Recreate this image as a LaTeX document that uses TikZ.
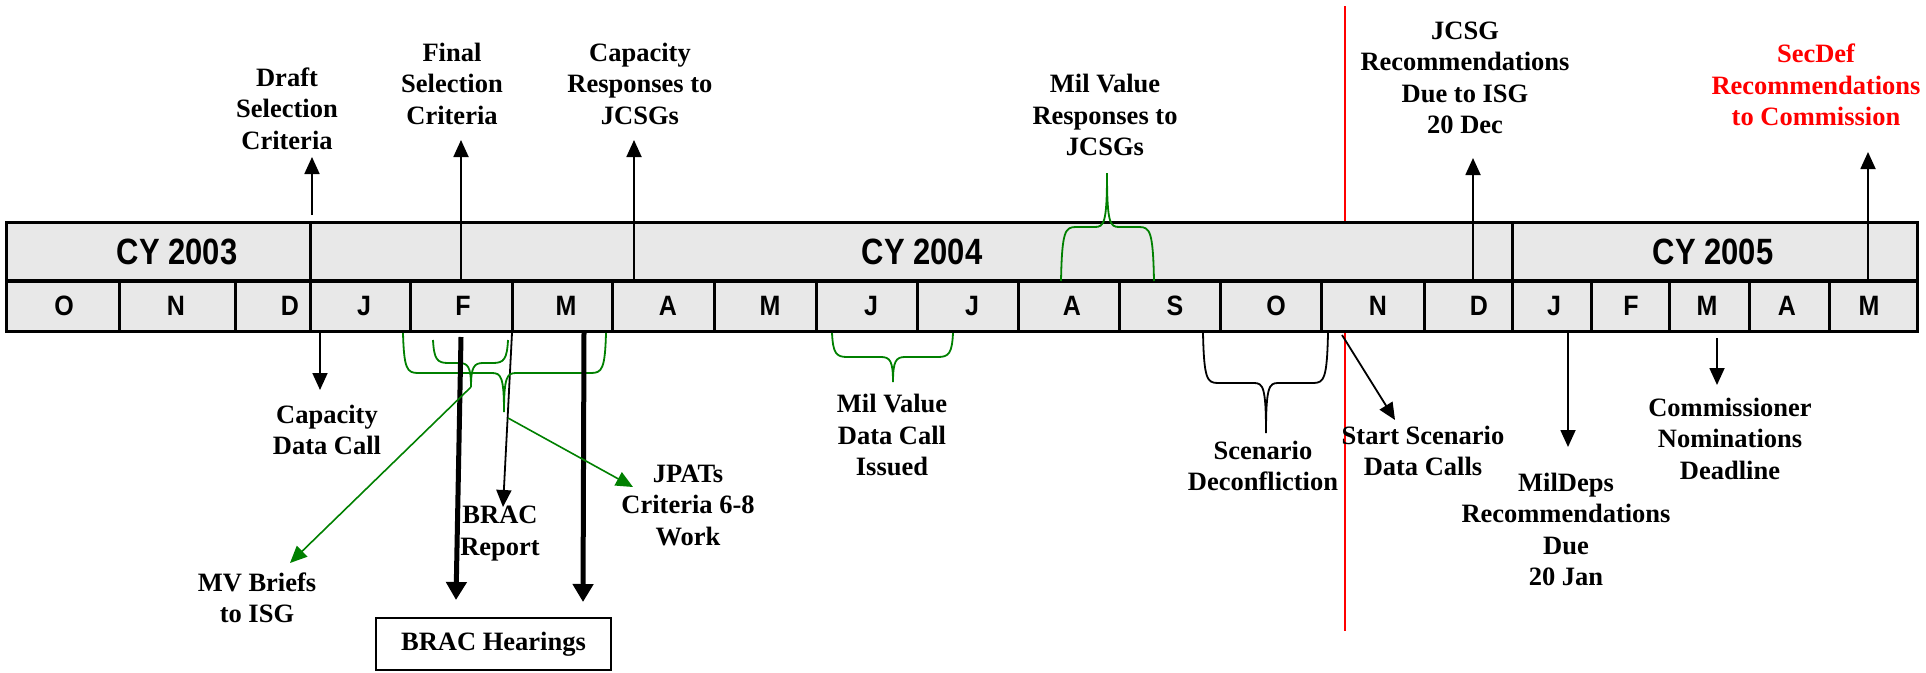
\documentclass[tikz,border=0pt]{standalone}
\usepackage{fontspec}
\usepackage{graphicx}
\setmainfont{Liberation Serif}
\newfontfamily\arialf{Liberation Sans}
\usetikzlibrary{arrows.meta}
\definecolor{tfill}{RGB}{232,232,232}
\definecolor{dgreen}{RGB}{0,128,0}
% brace: xL, xR, y0, yh, xc, yt, sign
\newcommand\mybrace[8][]{%
  \draw[bracestyle,#1] (#2,#4) .. controls (#2+1,#5-4*#8) and (#2+4,#5) .. (#2+15,#5)
    -- (#6-12,#5) .. controls (#6-3,#5) and (#6,#5+4*#8) .. (#6,#7)
    .. controls (#6,#5+4*#8) and (#6+3,#5) .. (#6+12,#5)
    -- (#3-15,#5) .. controls (#3-4,#5) and (#3-1,#5-4*#8) .. (#3,#4);}
\newcommand\ystr[2]{\scalebox{1}[#1]{#2}}
\begin{document}
\begin{tikzpicture}[x=1pt,y=-1pt,
  lbl/.style={font=\fontsize{26.5}{31.5}\selectfont\bfseries, align=center, inner sep=0pt},
  mon/.style={font=\arialf\bfseries\fontsize{25}{30}\selectfont, inner sep=0pt},
  yr/.style={font=\arialf\bfseries\fontsize{31}{36}\selectfont, inner sep=0pt},
  arr/.style={line width=1.8pt, -{Triangle[length=17pt,width=15pt]}},
  thickarr/.style={line width=5pt, -{Triangle[length=18pt,width=20pt]}},
  garr/.style={dgreen, line width=1.6pt, -{Triangle[length=17pt,width=15pt]}},
  bracestyle/.style={line width=1.8pt}]
\useasboundingbox (0,0) rectangle (1926,672);
% red line (behind table)
\coordinate (redtop) at (1345,6);
\coordinate (redbot) at (1345,631);
\draw[red, line width=1.8pt] (redtop) -- (redbot);
% table
\fill[tfill] (6,222) rectangle (1917,331);
\draw[line width=3pt] (6,222) rectangle (1917,331);
\draw[line width=4pt] (6,281) -- (1917,281);
\foreach \x in {310,1512} \draw[line width=3pt] (\x,222) -- (\x,281);
\foreach \x in {119,235,310,410,512,612,714,816,917,1018,1119,1220,1321,1424,1512,1591,1669,1749,1829}
  \draw[line width=3pt] (\x,281) -- (\x,331);
\node[yr] (y3) at (177,252) {\ystr{1.18}{CY 2003}};
\node[yr] (y4) at (922,252) {\ystr{1.18}{CY 2004}};
\node[yr] (y5) at (1713,252) {\ystr{1.18}{CY 2005}};
\foreach \x/\m [count=\i] in {64/O,176/N,290/D,364/J,463/F,566/M,668/A,770/M,871/J,972/J,1072/A,1175/S,1276/O,1378/N,1479/D,1554/J,1631/F,1707/M,1787/A,1869/M}
  \node[mon] (m\i) at (\x,306) {\ystr{1.12}{\m}};
% top labels
\node[lbl] (draft) at (287,108.5) {Draft\\Selection\\Criteria};
\node[lbl] (final) at (452,83.5) {Final\\Selection\\Criteria};
\node[lbl] (capresp) at (640,83.5) {Capacity\\Responses to\\JCSGs};
\node[lbl] (milresp) at (1105,115) {Mil Value\\Responses to\\JCSGs};
\node[lbl] (jcsg) at (1465,78) {JCSG\\Recommendations\\Due to ISG\\20 Dec};
\node[lbl, text=red] (secdef) at (1816,85) {SecDef\\Recommendations\\to Commission};
% top arrows
\coordinate (draftS) at (312,215); \coordinate (draftT) at (312,157);
\coordinate (finalS) at (461,281); \coordinate (finalT) at (461,140);
\coordinate (caprS) at (634,281); \coordinate (caprT) at (634,140);
\coordinate (jcsgS) at (1473,281); \coordinate (jcsgT) at (1473,158);
\coordinate (secS) at (1868,281); \coordinate (secT) at (1868,152);
\draw[arr] (draftS) -- (draftT);
\draw[arr] (finalS) -- (finalT);
\draw[arr] (caprS) -- (caprT);
\draw[arr] (jcsgS) -- (jcsgT);
\draw[arr] (secS) -- (secT);
% top green brace
\mybrace[dgreen]{1061}{1154}{281}{227}{1107}{173}{-1}
% bottom labels
\node[lbl] (capdc) at (327,430) {Capacity\\Data Call};
\node[lbl] (bracrep) at (500,533.5) {BRAC\\Report};
\node[lbl] (mvb) at (257,598) {MV Briefs\\to ISG};
\node[lbl] (jpats) at (688,505) {JPATs\\Criteria 6-8\\Work};
\node[lbl] (mvdc) at (892,435) {Mil Value\\Data Call\\Issued};
\node[lbl] (scen) at (1263,466) {Scenario\\Deconfliction};
\node[lbl] (start) at (1423,451) {Start Scenario\\Data Calls};
\node[lbl] (mildeps) at (1566,529.5) {MilDeps\\Recommendations\\Due\\20 Jan};
\node[lbl] (comm) at (1730,438.5) {Commissioner\\Nominations\\Deadline};
\node[lbl, draw, line width=1.8pt, minimum width=235pt, minimum height=52pt] (hear) at (493.5,644) {BRAC Hearings};
% bottom arrows
\coordinate (capdcS) at (320,333); \coordinate (capdcT) at (320,390);
\coordinate (brS) at (512,333); \coordinate (brT) at (503,507);
\coordinate (stS) at (1342,335); \coordinate (stT) at (1395,420);
\coordinate (mdS) at (1568,333); \coordinate (mdT) at (1568,447);
\coordinate (cmS) at (1717,338); \coordinate (cmT) at (1717,385);
\draw[arr] (capdcS) -- (capdcT);
\draw[arr] (brS) -- (brT);
\draw[arr] (stS) -- (stT);
\draw[arr] (mdS) -- (mdT);
\draw[arr] (cmS) -- (cmT);
% braces bottom
\mybrace[dgreen]{403}{606}{333}{373}{504}{412}{1}
\mybrace[dgreen]{433}{508}{340}{363}{471}{387}{1}
\mybrace[dgreen]{832}{953}{333}{357}{893}{382}{1}
\mybrace{1203}{1328}{333}{383}{1266}{433}{1}
% thick arrows
\coordinate (h1S) at (461,337); \coordinate (h1T) at (456,600);
\coordinate (h2S) at (584,332); \coordinate (h2T) at (583,602);
\draw[thickarr] (h1S) -- (h1T);
\draw[thickarr] (h2S) -- (h2T);
% green arrows
\coordinate (sbtip) at (471,387); \coordinate (mvT) at (290,563);
\coordinate (lbtip) at (508,418); \coordinate (jpT) at (633,487);
\draw[garr] (sbtip) -- (mvT);
\draw[garr] (lbtip) -- (jpT);
\end{tikzpicture}
\end{document}
